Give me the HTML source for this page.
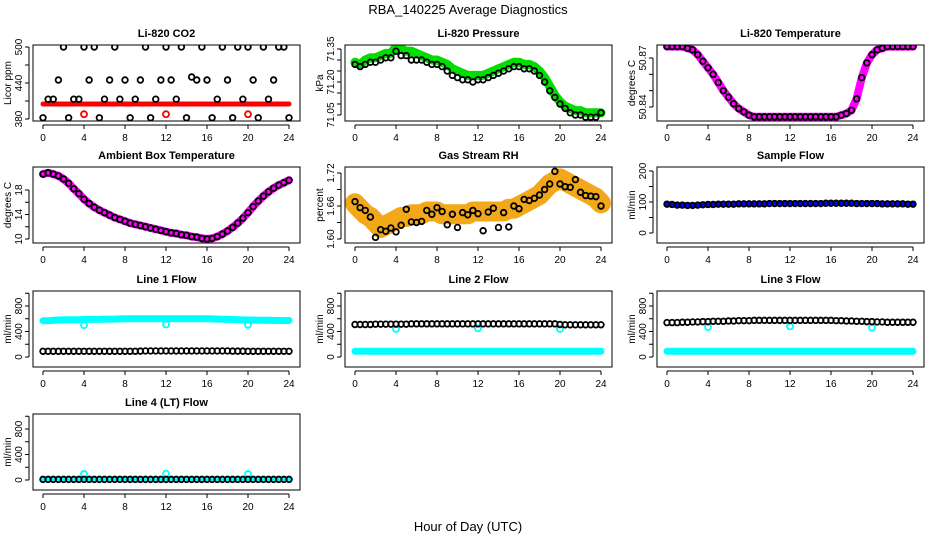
<!DOCTYPE html>
<html><head><meta charset="utf-8"><style>
body{margin:0;background:#fff;}
svg{display:block;font-family:"Liberation Sans",sans-serif;}
</style></head><body>
<svg id="chart" width="936" height="540" viewBox="0 0 936 540">
<text x="468" y="14" text-anchor="middle" font-size="13">RBA_140225  Average Diagnostics</text>
<text x="468" y="531" text-anchor="middle" font-size="13">Hour of Day (UTC)</text>
</svg>
<script>
const hours=[0,0.5,1,1.5,2,2.5,3,3.5,4,4.5,5,5.5,6,6.5,7,7.5,8,8.5,9,9.5,10,10.5,11,11.5,12,12.5,13,13.5,14,14.5,15,15.5,16,16.5,17,17.5,18,18.5,19,19.5,20,20.5,21,21.5,22,22.5,23,23.5,24];
const xTicks=[0,4,8,12,16,20,24];
const outlierHours=[4,12,20];
const co2Black=[382,413,413,445,500,382,413,413,500,445,500,382,413,445,500,413,445,382,413,445,500,382,413,445,500,445,413,500,382,450,445,500,445,382,413,500,445,382,500,413,500,445,382,500,413,445,500,500,382];
const co2Red=[405,405,405,405,405,405,405,405,405,405,405,405,405,405,405,405,405,405,405,405,405,405,405,405,405,405,405,405,405,405,405,405,405,405,405,405,405,405,405,405,405,405,405,405,405,405,405,405,405];
const co2RedOut=[388,388,388];
const presGreen=[71.29,71.28,71.30,71.31,71.31,71.32,71.33,71.33,71.36,71.35,71.34,71.34,71.33,71.32,71.31,71.30,71.30,71.29,71.28,71.26,71.25,71.24,71.23,71.23,71.23,71.23,71.24,71.25,71.26,71.27,71.28,71.29,71.29,71.28,71.28,71.27,71.25,71.22,71.18,71.14,71.11,71.09,71.08,71.07,71.07,71.06,71.06,71.06,71.06];
const presBlack=[71.28,71.27,71.28,71.29,71.29,71.30,71.31,71.31,71.34,71.32,71.32,71.30,71.30,71.30,71.29,71.28,71.28,71.27,71.25,71.23,71.22,71.21,71.21,71.20,71.21,71.21,71.22,71.23,71.24,71.25,71.26,71.27,71.27,71.26,71.26,71.25,71.23,71.20,71.16,71.13,71.10,71.08,71.06,71.05,71.05,71.04,71.04,71.04,71.06];
const tempMag=[50.877,50.877,50.877,50.877,50.876,50.875,50.872,50.868,50.864,50.860,50.855,50.850,50.846,50.842,50.839,50.837,50.835,50.834,50.834,50.834,50.834,50.834,50.834,50.834,50.834,50.834,50.834,50.834,50.834,50.834,50.834,50.834,50.834,50.834,50.835,50.836,50.838,50.845,50.858,50.867,50.872,50.875,50.876,50.877,50.877,50.877,50.877,50.877,50.877];
const ambient=[20.6,20.8,20.6,20.3,19.8,19.1,18.2,17.4,16.5,15.8,15.2,14.7,14.3,13.9,13.5,13.2,12.9,12.6,12.4,12.2,12.0,11.8,11.6,11.4,11.2,11.0,10.9,10.7,10.6,10.4,10.3,10.1,10.0,10.1,10.4,10.8,11.3,11.9,12.6,13.4,14.3,15.3,16.2,17.0,17.7,18.3,18.8,19.2,19.6];
const rhOrange=[1.665,1.655,1.645,1.64,1.63,1.62,1.625,1.63,1.635,1.64,1.64,1.645,1.645,1.645,1.65,1.65,1.65,1.645,1.645,1.645,1.645,1.645,1.645,1.65,1.65,1.65,1.65,1.65,1.65,1.65,1.655,1.655,1.66,1.665,1.67,1.675,1.68,1.69,1.70,1.705,1.71,1.705,1.70,1.695,1.69,1.685,1.68,1.675,1.665];
const rhBlack=[1.668,1.657,1.652,1.640,1.603,1.617,1.614,1.620,1.613,1.625,1.654,1.631,1.630,1.632,1.652,1.645,1.657,1.650,1.626,1.645,1.621,1.648,1.644,1.652,1.646,1.615,1.649,1.656,1.621,1.648,1.622,1.660,1.655,1.672,1.670,1.674,1.680,1.690,1.700,1.723,1.700,1.695,1.694,1.708,1.685,1.679,1.678,1.677,1.660];
const sampleBlue=[93,92,91,91,90,90,91,92,93,93,94,94,94,94,95,95,95,95,95,95,96,96,96,96,96,96,96,96,96,96,96,97,97,97,97,97,97,96,96,96,96,96,95,95,95,95,95,94,94];
const sampleBlack=[93,92,90,90,89,89,90,91,92,92,93,93,93,93,94,94,94,94,94,94,95,95,95,95,95,95,95,95,95,95,95,96,96,96,96,96,96,95,95,95,95,95,94,94,94,94,94,93,93];
const l1Cyan=[570,570,575,580,585,585,585,585,588,590,590,590,595,595,595,598,600,600,600,600,600,600,600,600,600,600,600,600,600,600,600,600,600,598,595,592,590,588,585,582,580,580,578,576,575,574,573,572,572];
const l1CyanOut=[500,510,505];
const l1Black=[90,90,90,90,90,90,90,90,90,90,90,90,90,90,90,90,90,90,90,92,95,95,95,95,95,95,95,95,95,95,95,95,95,95,95,95,95,92,92,92,90,90,90,90,90,90,90,90,90];
const l2Black=[510,510,510,510,515,515,515,515,515,515,515,520,520,520,520,520,520,520,520,520,520,520,520,520,520,520,520,520,520,520,520,520,520,520,520,520,520,520,520,520,510,505,505,505,505,505,505,505,505];
const l2Cyan=[90,90,90,90,90,90,90,90,90,90,90,90,90,90,90,90,90,90,90,90,90,90,90,90,90,90,90,90,90,90,90,90,90,90,90,90,90,90,90,90,90,90,90,90,90,90,90,90,90];
const l2CyanOut=[440,450,440];
const l3Black=[540,540,540,545,545,550,550,555,555,560,560,560,565,565,570,570,570,575,575,575,575,575,575,575,575,575,575,575,575,575,575,575,575,570,570,565,565,560,560,555,555,550,550,545,545,545,545,545,545];
const l3Cyan=[90,90,90,90,90,90,90,90,90,90,90,90,90,90,90,90,90,90,90,90,90,90,90,90,90,90,90,90,90,90,90,90,90,90,90,90,90,90,90,90,90,90,90,90,90,90,90,90,90];
const l3CyanOut=[470,480,460];
const l4Black=[10,10,10,10,10,10,10,10,10,10,10,10,10,10,10,10,10,10,10,10,10,10,10,10,10,10,10,10,10,10,10,10,10,10,10,10,10,10,10,10,10,10,10,10,10,10,10,10,10];
const l4Cyan=[10,10,10,10,10,10,10,10,10,10,10,10,10,10,10,10,10,10,10,10,10,10,10,10,10,10,10,10,10,10,10,10,10,10,10,10,10,10,10,10,10,10,10,10,10,10,10,10,10];
const l4CyanOut=[95,100,95];

const NS="http://www.w3.org/2000/svg";
const svg=document.getElementById('chart');
function el(tag,attrs,parent){const e=document.createElementNS(NS,tag);for(const k in attrs)e.setAttribute(k,attrs[k]);(parent||svg).appendChild(e);return e;}

const flowTicks=[0,400,800];
const panels=[
 {key:'co2',col:0,row:0,title:'Li-820 CO2',ylab:'Licor ppm',ticks:[380,440,500],tlab:['380','440','500'],ref:[500,2,380,74],
  series:[{d:co2Red,c:'#ff0000',band:5,out:co2RedOut},{d:co2Black,c:'#000',circ:true}],minor:[410,470]},
 {key:'pressure',col:1,row:0,title:'Li-820 Pressure',ylab:'kPa',ticks:[71.05,71.20,71.35],tlab:['71.05','71.20','71.35'],ref:[71.35,4,71.05,70],
  series:[{d:presGreen,c:'#00dd00',band:9},{d:presBlack,c:'#000',circ:true}],minor:[71.10,71.15,71.25,71.30]},
 {key:'temperature',col:2,row:0,title:'Li-820 Temperature',ylab:'degrees C',ticks:[50.84,50.87],tlab:['50.84','50.87'],ref:[50.87,13,50.84,62],
  series:[{d:tempMag,c:'#ff00ff',band:8},{d:tempMag,c:'#000',circ:true}],minor:[50.85,50.86]},
 {key:'ambient',col:0,row:1,title:'Ambient Box Temperature',ylab:'degrees C',ticks:[10,14,18],tlab:['10','14','18'],ref:[18,23,10,72],
  series:[{d:ambient,c:'#ff00ff',band:8},{d:ambient,c:'#000',circ:true}],minor:[12,16]},
 {key:'rh',col:1,row:1,title:'Gas Stream RH',ylab:'percent',ticks:[1.60,1.66,1.72],tlab:['1.60','1.66','1.72'],ref:[1.72,6,1.60,72],
  series:[{d:rhOrange,c:'#f2a818',band:20},{d:rhBlack,c:'#000',circ:true}],minor:[1.63,1.69]},
 {key:'sample-flow',col:2,row:1,title:'Sample Flow',ylab:'ml/min',ticks:[0,100,200],tlab:['0','100','200'],ref:[200,4,0,66],
  series:[{d:sampleBlue,c:'#0000ff',band:5},{d:sampleBlack,c:'#000',circ:true}],minor:[50,150]},
 {key:'line1-flow',col:0,row:2,title:'Line 1 Flow',ylab:'ml/min',ticks:flowTicks,tlab:['0','400','800'],ref:[0,66,800,15],
  series:[{d:l1Cyan,c:'#00ffff',band:7,out:l1CyanOut},{d:l1Black,c:'#000',circ:true}],minor:[200,600,1000]},
 {key:'line2-flow',col:1,row:2,title:'Line 2 Flow',ylab:'ml/min',ticks:flowTicks,tlab:['0','400','800'],ref:[0,66,800,15],
  series:[{d:l2Cyan,c:'#00ffff',band:7,out:l2CyanOut},{d:l2Black,c:'#000',circ:true}],minor:[200,600,1000]},
 {key:'line3-flow',col:2,row:2,title:'Line 3 Flow',ylab:'ml/min',ticks:flowTicks,tlab:['0','400','800'],ref:[0,66,800,15],
  series:[{d:l3Cyan,c:'#00ffff',band:7,out:l3CyanOut},{d:l3Black,c:'#000',circ:true}],minor:[200,600,1000]},
 {key:'line4-flow',col:0,row:3,title:'Line 4 (LT) Flow',ylab:'ml/min',ticks:flowTicks,tlab:['0','400','800'],ref:[0,66,800,15],
  series:[{d:l4Cyan,c:'#00ffff',band:5,out:l4CyanOut},{d:l4Black,c:'#000',circ:true}],minor:[200,600,1000]}
];
const rowTop=[45,167,291,414], boxH=76;

panels.forEach(p=>{
  const ox=p.col*312, top=rowTop[p.row], bot=top+boxH;
  const L=33+ox, R=300+ox;
  const xs=h=>43+ox+h*(246/24);
  const ys=v=>top+p.ref[1]+(v-p.ref[0])*(p.ref[3]-p.ref[1])/(p.ref[2]-p.ref[0]);
  const g=el('g',{});
  
  
  const t=el('text',{x:(L+R)/2,y:top-8,'text-anchor':'middle','font-size':11,'font-weight':'bold'},g);
  t.textContent=p.title;
  
  
  const cp=el('clipPath',{id:'clip-'+p.key},g);
  el('rect',{x:L,y:top,width:R-L,height:boxH},cp);
  const plot=el('g',{'clip-path':'url(#clip-'+p.key+')'},g);
  p.series.forEach((s,si)=>{
    const sg=el('g',{},plot);
    
    
    if(s.band){
      const d=s.d.map((v,i)=>(i?'L':'M')+xs(hours[i]).toFixed(1)+','+ys(v).toFixed(1)).join('');
      const path=el('path',{d:d,fill:'none',stroke:s.c,'stroke-width':s.band,'stroke-linejoin':'round','stroke-linecap':'round'},sg);
      
      
      if(s.out){
        s.out.forEach((v,i)=>{
          const c=el('circle',{cx:xs(outlierHours[i]),cy:ys(v),r:3,fill:'none',stroke:s.c,'stroke-width':1.8},sg);
          
          
        });
      }
    } else if(s.circ){
      s.d.forEach((v,i)=>{
        const c=el('circle',{cx:xs(hours[i]),cy:ys(v),r:2.8,fill:'none',stroke:s.c,'stroke-width':1.8},sg);
        
        
      });
    }
  });
  const box=el('rect',{x:L,y:top,width:R-L,height:boxH,fill:'none',stroke:'#000','stroke-width':1},g);
  
  
  const xa=el('g',{},g);
  
  
  el('line',{x1:xs(0),x2:xs(24),y1:bot+4,y2:bot+4,stroke:'#000'},xa);
  xTicks.forEach(h=>{
    el('line',{x1:xs(h),x2:xs(h),y1:bot+4,y2:bot+8,stroke:'#000'},xa);
    const tl=el('text',{x:xs(h),y:bot+20,'text-anchor':'middle','font-size':10},xa);
    tl.textContent=h;
  });
  const ya=el('g',{},g);
  
  
  const allT=p.ticks.concat(p.minor||[]).filter(v=>ys(v)>=top-1&&ys(v)<=bot+1);
  const yv=allT.map(ys);
  el('line',{x1:L-4,x2:L-4,y1:Math.min(...yv),y2:Math.max(...yv),stroke:'#000'},ya);
  allT.forEach(v=>{el('line',{x1:L-8,x2:L-4,y1:ys(v),y2:ys(v),stroke:'#000'},ya);});
  p.ticks.forEach((v,i)=>{
    const y=ys(v);
    const tl=el('text',{x:L-11,y:y,'text-anchor':'middle','font-size':10,transform:'rotate(-90 '+(L-11)+' '+y+')'},ya);
    tl.textContent=p.tlab[i];
  });
  const yl=el('text',{x:ox+11,y:top+boxH/2,'text-anchor':'middle','font-size':10,transform:'rotate(-90 '+(ox+11)+' '+(top+boxH/2)+')'},g);
  yl.textContent=p.ylab;
  
  
});
</script>
</body></html>
